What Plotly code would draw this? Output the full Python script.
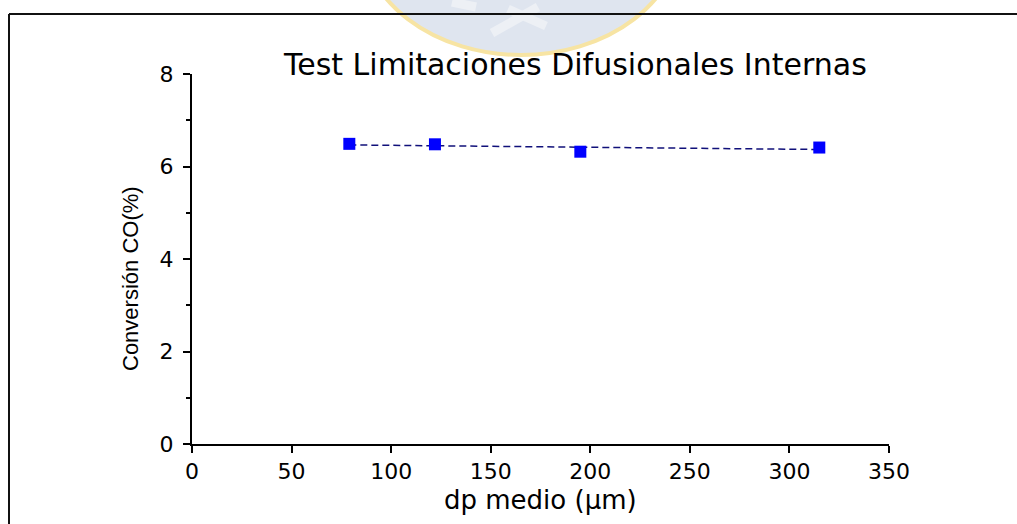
import numpy as np
import plotly.graph_objects as go

# Mean particle diameter (µm) and CO conversion (%)
dp_medio = [79, 122, 195, 315]
conversion_co = [6.49, 6.48, 6.32, 6.41]

x_ticks = [0, 50, 100, 150, 200, 250, 300, 350]
y_ticks = [0, 2, 4, 6, 8]

# Least-squares trend line through the measured points
slope, intercept = np.polyfit(dp_medio, conversion_co, 1)
x_fit = [min(dp_medio), max(dp_medio)]
y_fit = [slope * x + intercept for x in x_fit]

W, H = 1017, 524
L, R, T, B = 192, 128, 74, 80


def px(x):
    return (x - L) / (W - L - R)


def py(y):
    return (H - B - y) / (H - T - B)


fig = go.Figure()

fig.add_trace(go.Scatter(
    x=x_fit, y=y_fit, mode="lines",
    line=dict(color="#10107a", width=1.5, dash="7px,4px"),
    hoverinfo="skip", showlegend=False,
))

fig.add_trace(go.Scatter(
    x=dp_medio, y=conversion_co, mode="markers",
    marker=dict(symbol="square", size=12, color="#0000ff",
                line=dict(width=0)),
    showlegend=False,
))

tick_font = dict(family="DejaVu Sans", size=22, color="#000000")

fig.update_layout(
    width=W, height=H,
    margin=dict(l=L, r=R, t=T, b=B),
    paper_bgcolor="white", plot_bgcolor="white",
    xaxis=dict(
        range=[0, 350], tickvals=x_ticks, ticktext=[str(v) for v in x_ticks],
        showline=True, linecolor="#000000", linewidth=2,
        ticks="outside", ticklen=7, tickwidth=2, tickcolor="#000000",
        showgrid=False, zeroline=False, tickfont=tick_font,
    ),
    yaxis=dict(
        range=[0, 8], tickvals=y_ticks, ticktext=[str(v) for v in y_ticks],
        showline=True, linecolor="#000000", linewidth=2,
        ticks="outside", ticklen=7, tickwidth=2, tickcolor="#000000",
        ticklabelstandoff=5,
        minor=dict(dtick=1, ticks="outside", ticklen=4, tickwidth=1.5,
                   tickcolor="#000000", showgrid=False),
        showgrid=False, zeroline=False, tickfont=tick_font,
    ),
)

# Faint crest in the page background
fig.add_shape(type="circle", xref="paper", yref="paper", layer="below",
              x0=px(361), x1=px(681), y0=py(-190), y1=py(55),
              fillcolor="#dfe5ef", line=dict(color="#f7e4a3", width=4))
for (xa, ya, xb, yb) in [(492, 33, 538, 7), (508, 9, 546, 26), (452, 2, 476, 7)]:
    fig.add_shape(type="line", xref="paper", yref="paper", layer="below",
                  x0=px(xa), y0=py(ya), x1=px(xb), y1=py(yb),
                  line=dict(color="#edf0f5", width=9))

# Page frame
fig.add_shape(type="line", xref="paper", yref="paper",
              x0=px(9), y0=py(14), x1=px(1020), y1=py(14),
              line=dict(color="#111111", width=2))
fig.add_shape(type="line", xref="paper", yref="paper",
              x0=px(9), y0=py(14), x1=px(9), y1=py(530),
              line=dict(color="#111111", width=2))

fig.add_annotation(text="Test Limitaciones Difusionales Internas",
                   xref="paper", yref="paper", x=px(575), y=py(64),
                   xanchor="center", yanchor="middle", showarrow=False,
                   font=dict(family="DejaVu Sans", size=30, color="#000000"))
fig.add_annotation(text="dp medio (μm)",
                   xref="paper", yref="paper", x=px(540), y=py(500),
                   xanchor="center", yanchor="middle", showarrow=False,
                   font=dict(family="DejaVu Sans", size=26, color="#000000"))
fig.add_annotation(text="Conversión CO(%)", textangle=-90,
                   xref="paper", yref="paper", x=px(130), y=py(279),
                   xanchor="center", yanchor="middle", showarrow=False,
                   font=dict(family="Liberation Sans", size=22, color="#000000"))

fig.write_html("out.html")
